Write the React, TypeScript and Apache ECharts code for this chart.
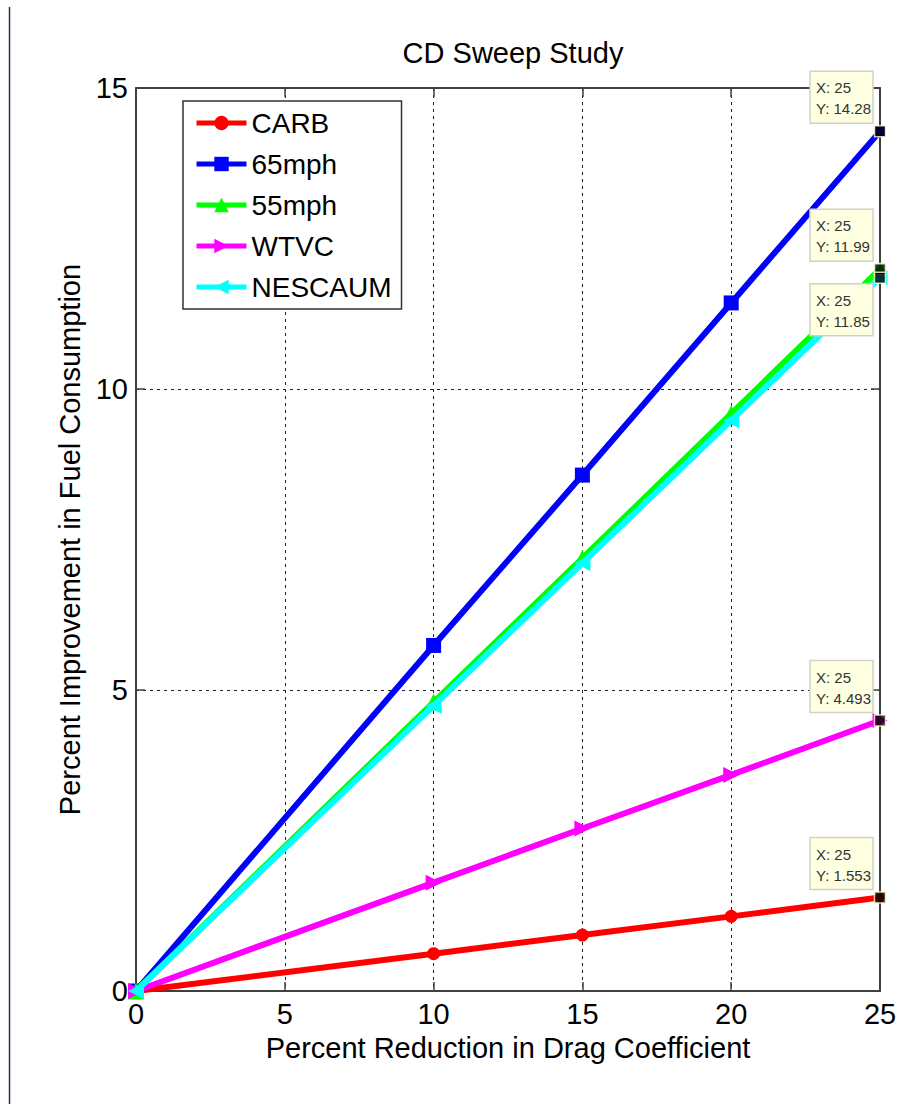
import React, { useEffect, useRef } from "react";
import * as echarts from "echarts";

const xValues = [0, 10, 15, 20, 25];
const seriesNames = ["CARB", "65mph", "55mph", "WTVC", "NESCAUM"];
const carb = [0, 0.62, 0.93, 1.24, 1.553];
const mph65 = [0, 5.74, 8.57, 11.43, 14.28];
const mph55 = [0, 4.8, 7.19, 9.59, 11.99];
const wtvc = [0, 1.8, 2.7, 3.59, 4.493];
const nescaum = [0, 4.74, 7.11, 9.48, 11.85];
const xTicks = [0, 5, 10, 15, 20, 25];
const yTicks = [0, 5, 10, 15];

// data tips
const tipX = [25, 25, 25, 25, 25];
const tipY = [14.28, 11.99, 11.85, 4.493, 1.553];
const tipText = ["Y: 14.28", "Y: 11.99", "Y: 11.85", "Y: 4.493", "Y: 1.553"];
const tipBelow = [false, false, true, false, false];

const colors = ["#ff0000", "#0000ff", "#00ff00", "#ff00ff", "#00ffff"];
const symbols = ["circle", "rect", "triangle", "path://M0,0 L10,5 L0,10 Z", "path://M10,0 L0,5 L10,10 Z"];
const symbolSizes = [13, 15, 17, 16, 16];
const lastSymbolSizes = [9, 10, 15, 15, 15];
const values = [carb, mph65, mph55, wtvc, nescaum];

const FONT = "Liberation Sans, Arial, sans-serif";

export default function App() {
  const ref = useRef<HTMLDivElement>(null);
  useEffect(() => {
    if (!ref.current) return;
    const chart = echarts.init(ref.current, undefined, { renderer: "svg" });
    const frameColor = "#404040";
    const series: any[] = values.map((vals, i) => ({
      name: seriesNames[i],
      type: "line",
      data: xValues.map((x, j) =>
        j === xValues.length - 1 ? { value: [x, vals[j]], symbolSize: lastSymbolSizes[i] } : [x, vals[j]]
      ),
      symbol: symbols[i],
      symbolSize: symbolSizes[i],
      showAllSymbol: true,
      lineStyle: { color: colors[i], width: 6 },
      itemStyle: { color: colors[i] },
      z: 3 + i,
    }));
    series.push({
      name: "tips",
      type: "scatter",
      data: tipX.map((x, i) => [x, tipY[i]]),
      symbol: "rect",
      symbolSize: 11,
      itemStyle: { color: "#000", borderColor: "#ffffcc", borderWidth: 1.5 },
      z: 20,
      silent: true,
    });
    const option: any = {
      animation: false,
      backgroundColor: "#ffffff",
      textStyle: { fontFamily: FONT },
      title: {
        text: "CD Sweep Study",
        left: 508,
        top: 33,
        textAlign: "center",
        textStyle: { fontFamily: FONT, fontSize: 29, fontWeight: "normal", color: "#000" },
      },
      legend: {
        data: seriesNames,
        orient: "vertical",
        left: 183,
        top: 101,
        padding: [7, 10, 7, 11],
        itemWidth: 50,
        itemHeight: 18,
        itemGap: 11,
        borderColor: "#333",
        borderWidth: 1.5,
        backgroundColor: "#fff",
        lineStyle: { width: 5 },
        textStyle: { fontFamily: FONT, fontSize: 28, color: "#000", padding: [0, 0, 0, 0], lineHeight: 30 },
      },
      grid: { left: 136, right: 20, top: 88, bottom: 113 },
      xAxis: [
        {
          type: "value",
          min: 0,
          max: 25,
          interval: 5,
          name: "Percent Reduction in Drag Coefficient",
          nameLocation: "middle",
          nameGap: 42,
          nameTextStyle: { fontFamily: FONT, fontSize: 29, color: "#000" },
          axisLine: { show: true, onZero: false, lineStyle: { color: frameColor, width: 2 } },
          axisTick: { show: true, inside: true, length: 9, lineStyle: { color: frameColor, width: 1.5 } },
          axisLabel: { fontFamily: FONT, fontSize: 29, color: "#000", margin: 8, formatter: (v: number) => (xTicks.includes(v) ? String(v) : "") },
          splitLine: { show: true, lineStyle: { color: "#222", width: 1, type: [3, 4] } },
        },
        {
          type: "value",
          position: "top",
          min: 0,
          max: 25,
          interval: 5,
          axisLine: { show: true, onZero: false, lineStyle: { color: frameColor, width: 2 } },
          axisTick: { show: true, inside: true, length: 9, lineStyle: { color: frameColor, width: 1.5 } },
          axisLabel: { show: false },
          splitLine: { show: false },
        },
      ],
      yAxis: [
        {
          type: "value",
          min: 0,
          max: 15,
          interval: 5,
          name: "Percent Improvement in Fuel Consumption",
          nameLocation: "middle",
          nameGap: 50,
          nameTextStyle: { fontFamily: FONT, fontSize: 29, color: "#000" },
          axisLine: { show: true, onZero: false, lineStyle: { color: frameColor, width: 2 } },
          axisTick: { show: true, inside: true, length: 9, lineStyle: { color: frameColor, width: 1.5 } },
          axisLabel: { fontFamily: FONT, fontSize: 29, color: "#000", margin: 8, formatter: (v: number) => (yTicks.includes(v) ? String(v) : "") },
          splitLine: { show: true, lineStyle: { color: "#222", width: 1, type: [3, 4] } },
        },
        {
          type: "value",
          position: "right",
          min: 0,
          max: 15,
          interval: 5,
          axisLine: { show: true, onZero: false, lineStyle: { color: frameColor, width: 2 } },
          axisTick: { show: true, inside: true, length: 9, lineStyle: { color: frameColor, width: 1.5 } },
          axisLabel: { show: false },
          splitLine: { show: false },
        },
      ],
      series,
    };
    chart.setOption(option);

    const graphics: any[] = [
      {
        type: "line",
        shape: { x1: 9.5, y1: 7, x2: 9.5, y2: 1104 },
        style: { stroke: "#26305e", lineWidth: 1.5 },
        z: 100,
      },
    ];
    const boxW = 63;
    const boxH = 52;
    tipX.forEach((x, i) => {
      const p = chart.convertToPixel({ gridIndex: 0 }, [x, tipY[i]]) as number[];
      const right = p[0] - 7;
      const top = tipBelow[i] ? p[1] + 6 : p[1] - 8 - boxH;
      graphics.push({
        type: "rect",
        shape: { x: right - boxW, y: top, width: boxW, height: boxH },
        style: { fill: "#ffffe1", stroke: "#d2d2c4", lineWidth: 1.5 },
        z: 100,
      });
      graphics.push({
        type: "text",
        x: right - boxW + 6,
        y: top + 6,
        style: {
          text: "X: " + x + "\n" + tipText[i],
          fontFamily: FONT,
          fontSize: 15,
          lineHeight: 21,
          fill: "#333",
        },
        z: 101,
      });
    });
    chart.setOption({ graphic: graphics });
    return () => chart.dispose();
  }, []);
  return <div ref={ref} style={{ position: "absolute", left: 0, top: 0, width: 900, height: 1104 }} />;
}
